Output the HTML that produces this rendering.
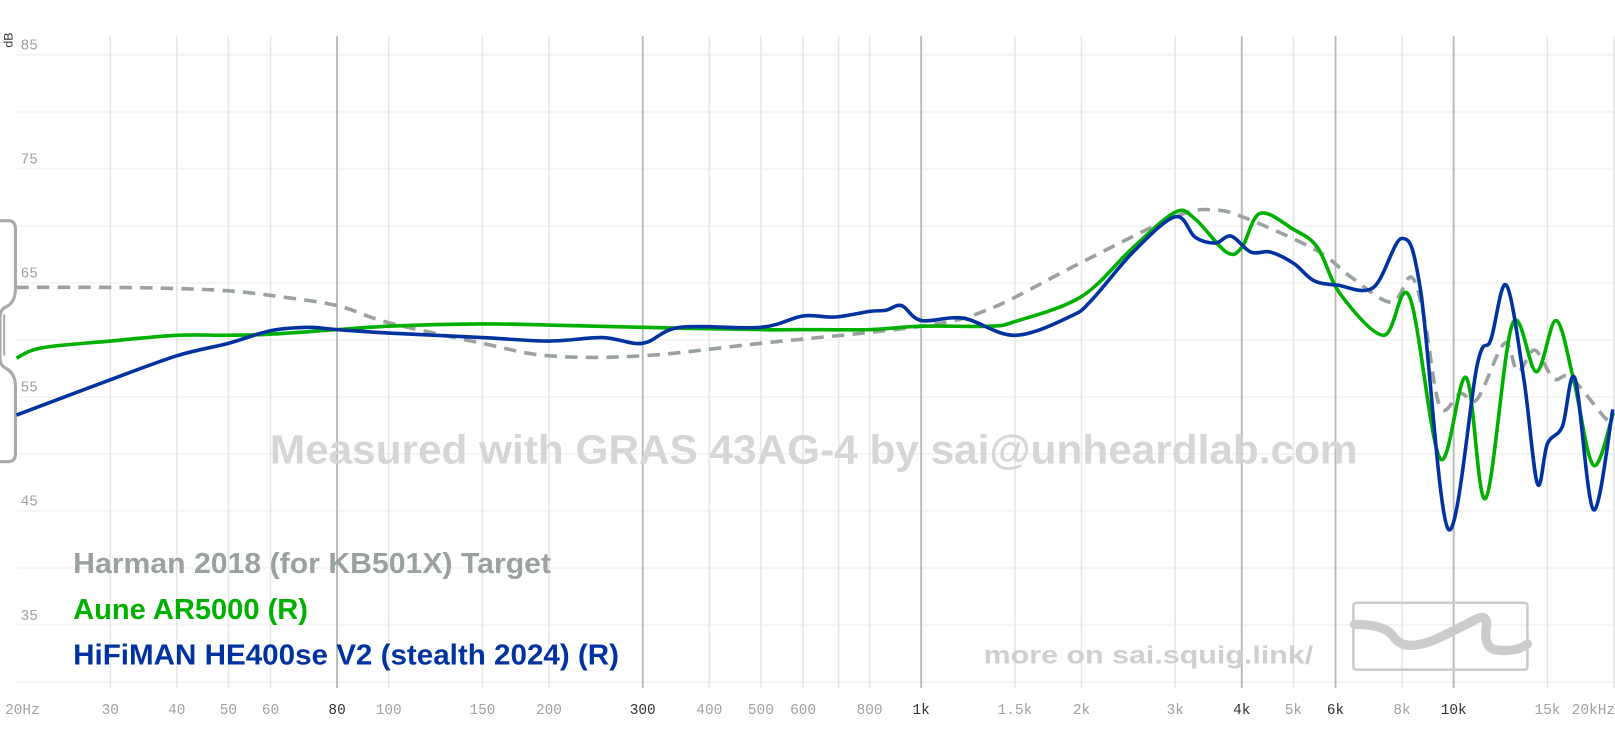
<!DOCTYPE html>
<html><head><meta charset="utf-8"><style>
html,body{margin:0;padding:0;background:#fff;}
svg{display:block;}
text{font-family:"Liberation Sans",sans-serif;}
.tk{font-family:"Liberation Mono",monospace;font-size:14px;fill:#a0a0a0;}
.tkd{fill:#333;}
</style></head><body>
<svg id="chart" width="1615" height="740" viewBox="0 0 1568 718" xmlns="http://www.w3.org/2000/svg">
<g id="grid"></g>
<g id="ticks"></g>
<text transform="translate(12,46) rotate(-90)" font-size="12" fill="#333">dB</text>
<path d="M0,214 h8 q7,0 7,8 v58 q0,14 -10,18 q-5,3 -5,10 v40 q0,6 5,9 q10,5 10,18 v65 q0,8 -7,8 h-8" fill="none" stroke="#aaa" stroke-width="3"/>
<line x1="4" y1="305" x2="4" y2="345" stroke="#aaa" stroke-width="2"/>
<text x="262" y="450" textLength="1056" lengthAdjust="spacingAndGlyphs" font-size="40" font-weight="bold" fill="#d6d6d6">Measured with GRAS 43AG-4 by sai@unheardlab.com</text>
<g id="curves"></g>
<text x="71" y="556" textLength="464" lengthAdjust="spacingAndGlyphs" font-size="28" font-weight="bold" fill="#9aa29f">Harman 2018 (for KB501X) Target</text>
<text x="71" y="601" textLength="228" lengthAdjust="spacingAndGlyphs" font-size="28" font-weight="bold" fill="#00b000">Aune AR5000 (R)</text>
<text x="71" y="645" textLength="530" lengthAdjust="spacingAndGlyphs" font-size="28" font-weight="bold" fill="#0033a0">HiFiMAN HE400se V2 (stealth 2024) (R)</text>
<text x="955" y="644" textLength="320" lengthAdjust="spacingAndGlyphs" font-size="24" font-weight="bold" fill="#cfcfcf">more on sai.squig.link/</text>
<g>
<rect x="1314" y="585" width="169" height="65" rx="3" fill="none" stroke="#ccc" stroke-width="2.5"/>
<path d="M1315,606 q30,0 38,12 q10,15 40,3 q25,-12 40,-20 q12,-6 10,8 q-3,20 10,22 q20,2 30,-6" fill="none" stroke="#ccc" stroke-width="9" stroke-linecap="round"/>
</g>
</svg>
<script>
const gridFreqs=[30,40,50,60,80,100,150,200,300,400,500,600,700,800,1000,1500,2000,3000,4000,5000,6000,8000,10000,15000,20000];
const darkFreqs=[80,300,1000,4000,6000,10000];
const tickFreqs=[20,30,40,50,60,80,100,150,200,300,400,500,600,800,1000,1500,2000,3000,4000,5000,6000,8000,10000,15000,20000];
const tickLabels=["20Hz","30","40","50","60","80","100","150","200","300","400","500","600","800","1k","1.5k","2k","3k","4k","5k","6k","8k","10k","15k","20kHz"];
const dbTicks=[85,75,65,55,45,35];
const dbGrid=[85,80,75,70,65,60,55,50,45,40,35,30];

const harmanF=[20,30,40,50,60,80,100,150,200,300,500,1000,1342,2000,3000,3570,4160,5550,6420,7630,8330,8820,9430,10300,11070,12450,13200,14200,15400,16600,19200,20000];
const harmanDb=[64.6,64.6,64.5,64.3,63.9,63.0,61.5,59.7,58.6,58.6,59.7,61.2,62.7,66.8,70.8,71.4,70.5,67.8,65.5,63.3,65.5,61.7,54.1,55.3,54.8,59.7,57.2,59.1,56.6,56.7,53.2,52.8];

const auneF=[20,22.3,30,40,50,60,80,100,150,200,300,500,600,800,1000,1342,1500,2000,2500,3000,3270,3740,4000,4330,5000,5550,6130,7390,8260,9430,10550,11480,12890,14300,15570,16800,18300,19950];
const auneDb=[58.4,59.3,59.9,60.4,60.4,60.5,60.9,61.2,61.4,61.3,61.1,60.9,60.9,60.9,61.2,61.2,61.6,63.8,68.1,71.2,70.6,67.7,68.1,71.1,69.7,68.1,64.0,60.4,63.8,49.6,56.7,46.1,61.4,57.2,61.7,56.5,49.0,53.6];

const hifiF=[20,30,40,50,60,70.8,80,100,150,200,252,300,352,500,600,688,800,859,919,1000,1200,1500,1915,2100,2500,3000,3270,3570,3820,4160,4530,5010,5460,6050,7070,8000,8670,9770,11070,11740,12560,13550,14360,15000,16000,16900,18300,19900];
const hifiDb=[53.4,56.5,58.6,59.7,60.8,61.1,60.9,60.6,60.2,59.9,60.2,59.7,61.1,61.1,62.1,62.0,62.5,62.6,63.0,61.7,61.9,60.4,62.1,63.6,67.7,70.8,69.0,68.5,69.1,67.7,67.7,66.7,65.2,64.8,64.6,68.9,64.3,43.4,57.8,60.0,64.8,56.5,47.4,50.9,52.4,56.6,45.1,53.9];

const NS="http://www.w3.org/2000/svg";
function xScale(f){return 16+517*Math.log10(f/20);}
function yScale(db){return 53+(85-db)*11.07;}
function mk(tag,attrs,parent){const e=document.createElementNS(NS,tag);for(const k in attrs)e.setAttribute(k,attrs[k]);parent.appendChild(e);return e;}
const grid=document.getElementById('grid');
dbGrid.forEach(d=>{
  const l=mk('line',{x1:16,x2:1568,y1:yScale(d),y2:yScale(d),stroke:'#f5f5f5','stroke-width':2},grid);
  
  
});
gridFreqs.forEach(f=>{
  const dk=darkFreqs.includes(f);
  const l=mk('line',{x1:xScale(f),x2:xScale(f),y1:35,y2:668,stroke:dk?'#b8b8b8':'#e6e6e6','stroke-width':dk?1.8:1.5},grid);
  
  
});
const ticks=document.getElementById('ticks');
tickFreqs.forEach((f,i)=>{
  let x=xScale(f);let anchor='middle';
  if(i===0){x=5;anchor='start';} if(i===tickFreqs.length-1){x=1568;anchor='end';}
  const t=mk('text',{x:x,y:693,'text-anchor':anchor,class:'tk'+(darkFreqs.includes(f)?' tkd':'')},ticks);
  t.textContent=tickLabels[i];
  
  
});
dbTicks.forEach(d=>{
  const t=mk('text',{x:20,y:yScale(d)-5,class:'tk'},ticks);
  t.textContent=String(d);
  
  
});
function pathFor(F,D){
  const p=F.map((f,i)=>[xScale(f),yScale(D[i])]);
  let d='M'+p[0][0].toFixed(1)+','+p[0][1].toFixed(1);
  for(let i=0;i<p.length-1;i++){
    const p0=p[i-1]||p[i],p1=p[i],p2=p[i+1],p3=p[i+2]||p2;
    const t=1/6;
    const c1=[p1[0]+(p2[0]-p0[0])*t,p1[1]+(p2[1]-p0[1])*t];
    const c2=[p2[0]-(p3[0]-p1[0])*t,p2[1]-(p3[1]-p1[1])*t];
    d+='C'+c1[0].toFixed(1)+','+c1[1].toFixed(1)+' '+c2[0].toFixed(1)+','+c2[1].toFixed(1)+' '+p2[0].toFixed(1)+','+p2[1].toFixed(1);
  }
  return d;
}
const curves=document.getElementById('curves');
const h=mk('path',{d:pathFor(harmanF,harmanDb),fill:'none',stroke:'#9aa29f','stroke-width':3.5,'stroke-dasharray':'12,8'},curves);


const a=mk('path',{d:pathFor(auneF,auneDb),fill:'none',stroke:'#00b000','stroke-width':3.5,'stroke-linejoin':'round'},curves);


const b=mk('path',{d:pathFor(hifiF,hifiDb),fill:'none',stroke:'#0033a0','stroke-width':3.5,'stroke-linejoin':'round'},curves);


</script>
</body></html>
